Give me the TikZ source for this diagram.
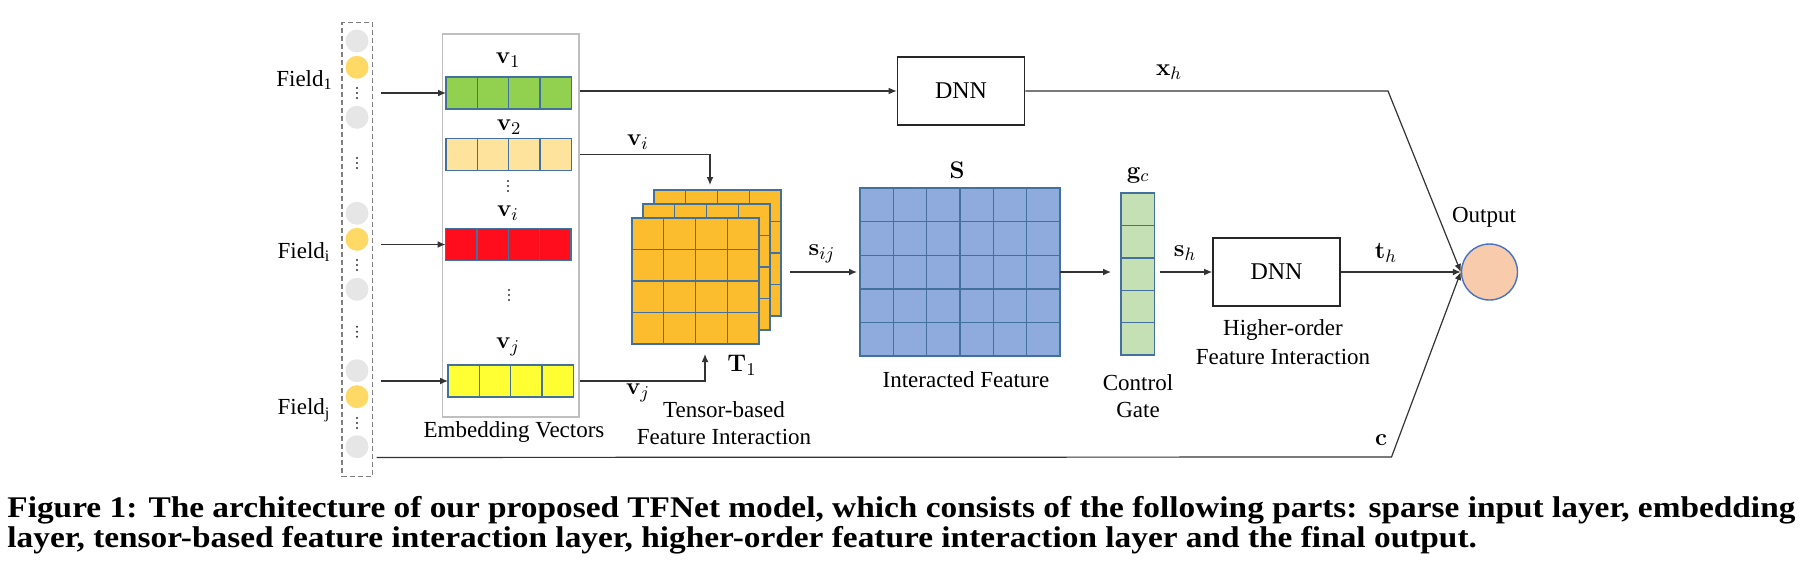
\documentclass[tikz,border=0pt]{standalone}
\usepackage[no-math]{fontspec}
\setmainfont{Liberation Serif}
\usetikzlibrary{arrows.meta,calc}
\definecolor{cellblue}{HTML}{41719C}
\definecolor{vgreen}{HTML}{92D050}
\definecolor{vlight}{HTML}{FEE39C}
\definecolor{vred}{HTML}{FF0D1D}
\definecolor{vyellow}{HTML}{FFFF33}
\definecolor{torange}{HTML}{FBBC2E}
\definecolor{sblue}{HTML}{8FAADC}
\definecolor{ggreen}{HTML}{C5E0B4}
\definecolor{opeach}{HTML}{F8CBAD}
\definecolor{oblue}{HTML}{4472C4}
\definecolor{cgray}{HTML}{E6E6E6}
\definecolor{cyellow}{HTML}{FFD966}
\definecolor{boxgray}{HTML}{BFBFBF}
\definecolor{dashgray}{HTML}{808080}
\newcommand\colsplit[3]{\foreach \k in {1,...,#3}{\draw[cellb] ($(#1.north west)!\k/#2!(#1.north east)$) -- ($(#1.south west)!\k/#2!(#1.south east)$);}}
\newcommand\rowsplit[3]{\foreach \k in {1,...,#3}{\draw[cellb] ($(#1.north west)!\k/#2!(#1.south west)$) -- ($(#1.north east)!\k/#2!(#1.south east)$);}}
\newcommand\vdotsat[1]{\foreach \d in {-5,0,5}{\fill[black!80] ($(#1)+(0,\d)$) circle[radius=0.55pt];}}
\begin{document}
\begin{tikzpicture}[x=0.5pt,y=-0.5pt,
  conn/.style={draw=black!80, line width=0.6pt},
  arr/.style={conn, -{Latex[length=4pt,width=3.4pt]}},
  cellb/.style={draw=cellblue, line width=0.7pt},
  gridbox/.style={draw=cellblue, line width=0.7pt, rectangle, inner sep=0, outer sep=0},
  vecbox/.style={gridbox, minimum width=62.75pt, minimum height=16pt},
  tenbox/.style={gridbox, fill=torange, minimum width=63.5pt, minimum height=63pt},
  dnnbox/.style={draw=black!85, line width=0.8pt, rectangle, minimum width=63.5pt, minimum height=34pt, font=\fontsize{12}{14}\selectfont},
  incirc/.style={circle, inner sep=0, minimum size=11.5pt},
  lab/.style={font=\fontsize{11.5}{13.5}\selectfont, inner sep=0, align=center},
  mlab/.style={font=\fontsize{13}{15}\selectfont, inner sep=0}]
\useasboundingbox (0,0) rectangle (1804,578);

% sparse input column
\node[draw=dashgray, dashed, dash pattern=on 2.5pt off 1.5pt, line width=0.6pt, rectangle, inner sep=0,
      minimum width=15.25pt, minimum height=227pt] (col) at (357.25,249.85) {};
\foreach \n/\y/\c in {a/41/cgray, b/67.3/cyellow, c/117.3/cgray, d/213.3/cgray, e/239.3/cyellow,
                      f/289.3/cgray, g/370.7/cgray, h/396.7/cyellow, k/446.7/cgray}
  {\node[incirc, fill=\c] (in\n) at (357,\y) {};}
\foreach \y in {93,163,265,331.7,423} {\vdotsat{357,\y}}

\node[lab] (f1) at (304.5,80) {Field\textsubscript{1}};
\node[lab] (fi) at (304,252) {Field\textsubscript{i}};
\node[lab] (fj) at (304,410) {Field\textsubscript{j}};

% embedding box
\node[draw=boxgray, line width=0.8pt, rectangle, inner sep=0, minimum width=68.25pt, minimum height=191.5pt] (emb) at (510.75,225.5) {};
\node[vecbox, fill=vgreen] (v1) at (508.75,93) {};
\node[vecbox, fill=vlight] (v2) at (508.75,154.5) {};
\node[vecbox, fill=vred] (vi) at (508.25,244.5) {};
\node[vecbox, fill=vyellow] (vj) at (510.75,381) {};
\foreach \v in {v1,v2,vi,vj} {\colsplit{\v}{4}{3}}
\node[mlab] (lv1) at (508,60) {$\mathbf{v}_1$};
\node[mlab] (lv2) at (509,127) {$\mathbf{v}_2$};
\node[mlab] (lvi) at (508,213) {$\mathbf{v}_i$};
\node[mlab] (lvj) at (508,347) {$\mathbf{v}_j$};
\vdotsat{508,186}
\vdotsat{509,295}
\node[lab] (embl) at (514,432) {Embedding Vectors};

% arrows from fields
\coordinate (a1) at ($(col.east |- v1.west)+(8,0)$);
\coordinate (ai) at ($(col.east |- vi.west)+(8,0)$);
\coordinate (aj) at ($(col.east |- vj.west)+(8,0)$);
\draw[arr] (a1) -- (v1.west);
\draw[arr] (ai) -- (vi.west);
\draw[arr] (aj) -- (vj.west);

% tensor
\node[tenbox] (T3) at (717.5,253) {};
\colsplit{T3}{4}{3}\rowsplit{T3}{4}{3}
\node[tenbox] (T2) at (706.5,267) {};
\colsplit{T2}{4}{3}\rowsplit{T2}{4}{3}
\node[tenbox] (T) at (695.5,281) {};
\colsplit{T}{4}{3}\rowsplit{T}{4}{3}
\node[mlab] (lT) at (742,365) {$\mathbf{T}_1$};
\node[lab, font=\fontsize{11.5}{13.5}\selectfont] (tfl) at (724,423.5) {Tensor-based\\Feature Interaction};

\coordinate (ti) at ($(T3.north)+(-7.5,-5)$);
\coordinate (tj) at ($(T.south)+(9.5,10)$);
\draw[arr] (emb.east |- v2.east) -| (ti);
\draw[arr] (emb.east |- vj.east) -| (tj);
\node[mlab] (lvi2) at (638,142) {$\mathbf{v}_i$};
\node[mlab] (lvj2) at (638,393) {$\mathbf{v}_j$};

% interacted feature
\node[gridbox, fill=sblue, minimum width=100pt, minimum height=84pt] (S) at (960,272) {};
\colsplit{S}{6}{5}\rowsplit{S}{5}{4}
\node[mlab] (lS) at (957,170) {$\mathbf{S}$};
\node[lab] (sfl) at (966,380) {Interacted Feature};
\coordinate (sa) at ($(T3.east |- S.west)+(9,0)$);
\draw[arr] (sa) -- ([xshift=-1.5pt]S.west);
\node[mlab] (lsij) at (822,254) {$\mathbf{s}_{ij}$};

% control gate
\node[gridbox, fill=ggreen, minimum width=16.75pt, minimum height=81pt] (gate) at (1137.75,274) {};
\rowsplit{gate}{5}{4}
\node[mlab] (lg) at (1138,175) {$\mathbf{g}_c$};
\node[lab] (gl) at (1138,396.5) {Control\\Gate};
\coordinate (ga) at ($(gate.west |- S.east)+(-10,0)$);
\draw[arr] (S.east) -- (ga);

% higher-order DNN
\node[dnnbox] (dnn2) at (1276.5,272) {DNN};
\coordinate (gb) at ($(gate.east |- dnn2.west)+(5,0)$);
\draw[arr] (gb) -- (dnn2.west);
\node[mlab] (lsh) at (1185,253) {$\mathbf{s}_h$};
\node[lab, font=\fontsize{11.5}{14.5}\selectfont] (hl) at (1283,342.5) {Higher-order\\Feature Interaction};

% top DNN
\node[dnnbox] (dnn1) at (961,91) {DNN};
\draw[arr] (emb.east |- dnn1.west) -- (dnn1.west);
\node[mlab] (lxh) at (1169,72) {$\mathbf{x}_h$};

% output
\node[circle, fill=opeach, draw=oblue, line width=0.7pt, inner sep=0, minimum size=28pt] (out) at (1489.5,272) {};
\node[lab] (outl) at (1484,217) {Output};
\coordinate (k1) at (1388,91);
\draw[arr] (dnn1.east) -- (k1) -- (out.west);
\draw[arr] (dnn2.east) -- (out.west);
\node[mlab] (lth) at (1386,253) {$\mathbf{t}_h$};
\coordinate (cs) at ($(col.south east)+(3.5,-20)$);
\coordinate (k2) at (1391.5,457);
\draw[arr] (cs) -- (k2) -- (out.west);
\node[mlab] (lc) at (1381,440) {$\mathbf{c}$};

% caption
\node[anchor=base west, inner sep=0, font=\bfseries\fontsize{15}{15}\selectfont] (cap) at (7,517)
 {\resizebox{894pt}{\height}{\begin{tabular}[t]{@{}l@{}}Figure 1: The architecture of our proposed TFNet model, which consists of the following parts: sparse input layer, embedding\\
  layer, tensor-based feature interaction layer, higher-order feature interaction layer and the final output.\end{tabular}}};
\end{tikzpicture}
\end{document}
